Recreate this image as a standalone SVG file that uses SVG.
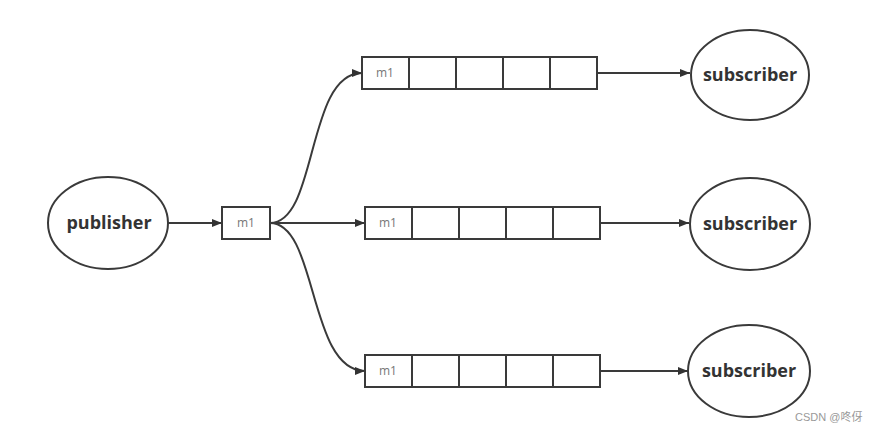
<svg xmlns="http://www.w3.org/2000/svg" width="877" height="432" viewBox="0 0 877 432">
<style>
.node{fill:#fff;stroke:#3a3a3a;stroke-width:2}
.big{font-family:"Open Sans","Liberation Sans",sans-serif;font-weight:bold;font-size:18px;fill:#333;text-anchor:middle}
.m{font-family:"Open Sans","Liberation Sans",sans-serif;font-size:12px;fill:#777;text-anchor:middle}
.cell{fill:#fff;stroke:#3a3a3a;stroke-width:2}
.edge{fill:none;stroke:#3a3a3a;stroke-width:2}
.wm{font-family:"Liberation Sans","Noto Sans CJK SC",sans-serif;font-size:11px;fill:#999}
</style>
<defs>
<marker id="arr" viewBox="0 0 10 8" refX="10" refY="4" markerWidth="10" markerHeight="8" markerUnits="userSpaceOnUse" orient="auto">
<path d="M0,0 L10,4 L0,8 z" fill="#333"/>
</marker>
</defs>
<rect width="877" height="432" fill="#fff"/>
<g id="connectors">
<line class="edge" x1="168" y1="223" x2="222" y2="223" marker-end="url(#arr)"/>
<path class="edge" d="M270,223 C318,223 306,73 362,73" marker-end="url(#arr)"/>
<line class="edge" x1="270" y1="223" x2="365" y2="223" marker-end="url(#arr)"/>
<path class="edge" d="M270,223 C318,223 308,371 365,371" marker-end="url(#arr)"/>
<line class="edge" x1="597" y1="73" x2="690" y2="73" marker-end="url(#arr)"/>
<line class="edge" x1="600" y1="223" x2="689" y2="223" marker-end="url(#arr)"/>
<line class="edge" x1="600" y1="371" x2="688" y2="371" marker-end="url(#arr)"/>
</g>
<g id="publisher">
<ellipse class="node" cx="108" cy="223" rx="60" ry="46"/>
<text class="big" x="109" y="229">publisher</text>
</g>
<g id="m1-source">
<rect class="cell" x="222" y="207" width="48" height="32"/>
<text class="m" x="246" y="227">m1</text>
</g>
<g id="queue-top">
<rect class="cell" x="362" y="57" width="47" height="32"/>
<rect class="cell" x="409" y="57" width="47" height="32"/>
<rect class="cell" x="456" y="57" width="47" height="32"/>
<rect class="cell" x="503" y="57" width="47" height="32"/>
<rect class="cell" x="550" y="57" width="47" height="32"/>
<text class="m" x="385" y="77">m1</text>
</g>
<g id="queue-middle">
<rect class="cell" x="365" y="207" width="47" height="32"/>
<rect class="cell" x="412" y="207" width="47" height="32"/>
<rect class="cell" x="459" y="207" width="47" height="32"/>
<rect class="cell" x="506" y="207" width="47" height="32"/>
<rect class="cell" x="553" y="207" width="47" height="32"/>
<text class="m" x="388" y="227">m1</text>
</g>
<g id="queue-bottom">
<rect class="cell" x="365" y="355" width="47" height="32"/>
<rect class="cell" x="412" y="355" width="47" height="32"/>
<rect class="cell" x="459" y="355" width="47" height="32"/>
<rect class="cell" x="506" y="355" width="47" height="32"/>
<rect class="cell" x="553" y="355" width="47" height="32"/>
<text class="m" x="388" y="375">m1</text>
</g>
<g id="subscriber-top">
<ellipse class="node" cx="750" cy="75" rx="59" ry="45"/>
<text class="big" x="750" y="81">subscriber</text>
</g>
<g id="subscriber-middle">
<ellipse class="node" cx="750" cy="224" rx="60" ry="46"/>
<text class="big" x="750" y="230">subscriber</text>
</g>
<g id="subscriber-bottom">
<ellipse class="node" cx="749" cy="371" rx="61" ry="46"/>
<text class="big" x="749" y="377">subscriber</text>
</g>
<text class="wm" x="795" y="421">CSDN @咚伢</text>
</svg>
